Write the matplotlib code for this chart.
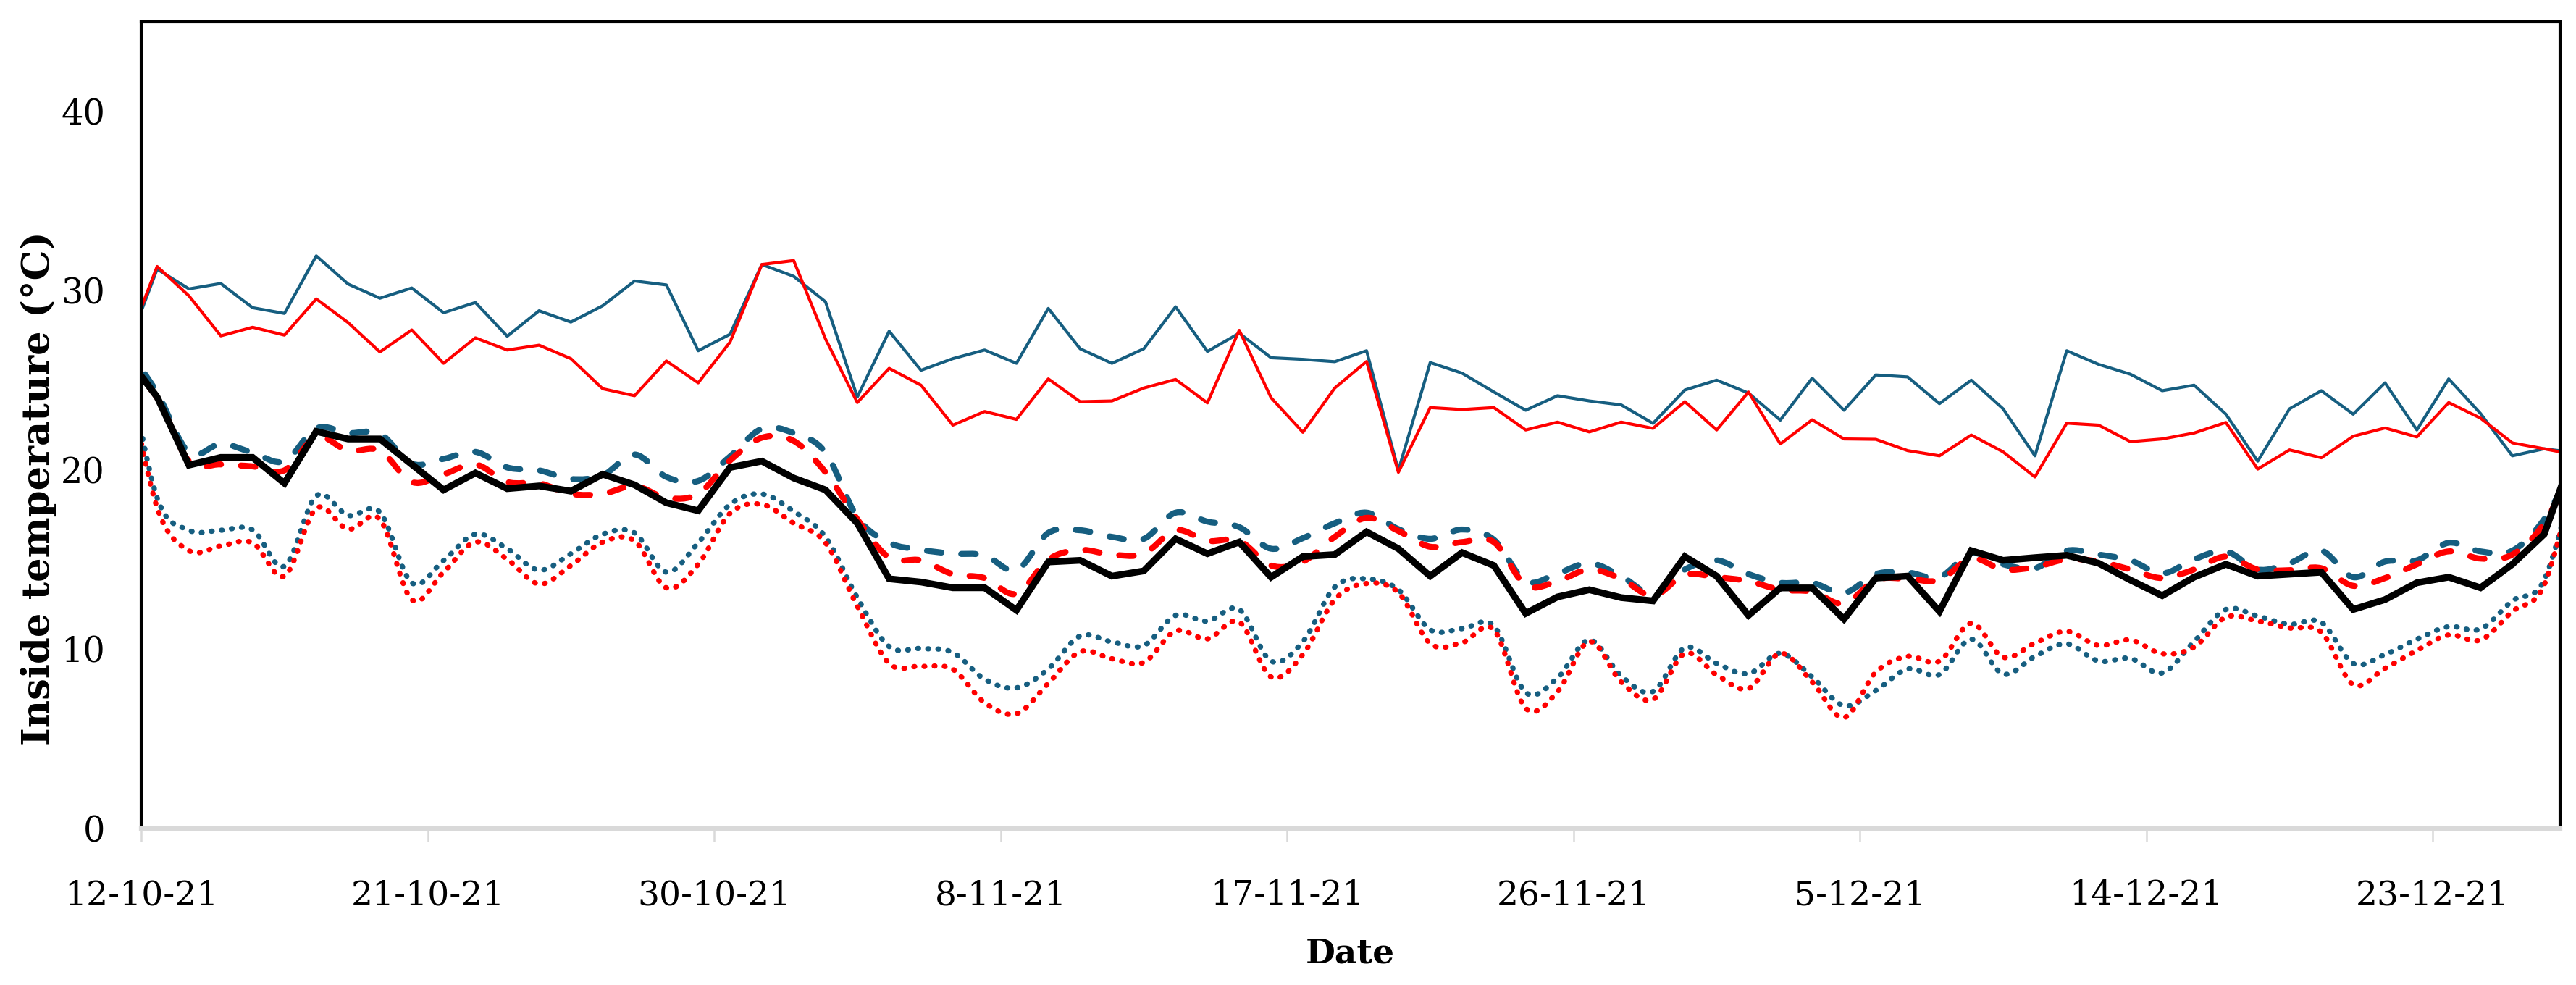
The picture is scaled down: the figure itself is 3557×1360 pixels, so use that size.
import numpy as np
import matplotlib
matplotlib.use("Agg")
import matplotlib.pyplot as plt
from matplotlib.path import Path
from matplotlib.patches import PathPatch

plt.rcParams['font.family'] = ['DejaVu Serif']

# daily values, plotted at mid-day; first and last points fall just outside the axis range
blue_solid = [26.5,
              31.2, 30.1, 30.4, 29.05, 28.73, 31.94, 30.37, 29.58, 30.15, 28.77,
              29.34, 27.46, 28.88, 28.25, 29.16, 30.54, 30.32, 26.65, 27.57, 31.46,
              30.8, 29.38, 24.07, 27.74, 25.56, 26.21, 26.69, 25.95, 29.01, 26.76,
              25.95, 26.76, 29.1, 26.61, 27.63, 26.26, 26.17, 26.04, 26.65, 19.98,
              25.99, 25.4, 24.35, 23.33, 24.14, 23.85, 23.63, 22.6, 24.46, 25.01,
              24.29, 22.78, 25.12, 23.33, 25.3, 25.19, 23.7, 25.01, 23.41, 20.79,
              26.65, 25.89, 25.34, 24.42, 24.73, 23.11, 20.49, 23.41, 24.42, 23.11,
              24.86, 22.23, 25.08, 23.15, 20.79, 21.18, 20.96]
red_solid = [26.75,
             31.35, 29.71, 27.48, 27.96, 27.52, 29.54, 28.22, 26.58, 27.81, 25.95,
             27.37, 26.69, 26.96, 26.21, 24.53, 24.14, 26.08, 24.86, 27.13, 31.46,
             31.68, 27.31, 23.76, 25.67, 24.73, 22.5, 23.26, 22.82, 25.08, 23.81,
             23.85, 24.57, 25.05, 23.74, 27.79, 24.03, 22.1, 24.57, 26.05, 19.87,
             23.48, 23.37, 23.48, 22.23, 22.67, 22.12, 22.67, 22.32, 23.81, 22.23,
             24.35, 21.45, 22.8, 21.73, 21.71, 21.08, 20.79, 21.95, 21.01, 19.61,
             22.61, 22.5, 21.58, 21.73, 22.06, 22.65, 20.05, 21.12, 20.68, 21.88,
             22.34, 21.84, 23.76, 22.89, 21.51, 21.18, 20.84]
black_solid = [26.4,
               24.07, 20.27, 20.7, 20.7, 19.26, 22.15, 21.73, 21.73, 20.31, 18.89,
               19.83, 18.96, 19.11, 18.82, 19.76, 19.17, 18.17, 17.73, 20.14, 20.49,
               19.55, 18.89, 17.03, 13.93, 13.75, 13.43, 13.43, 12.18, 14.87, 14.96,
               14.08, 14.37, 16.16, 15.33, 15.98, 14.02, 15.17, 15.28, 16.55, 15.61,
               14.08, 15.39, 14.67, 12.0, 12.92, 13.32, 12.88, 12.7, 15.17, 14.08,
               11.89, 13.42, 13.42, 11.68, 13.97, 14.08, 12.11, 15.5, 14.96, 15.11,
               15.24, 14.8, 13.86, 12.99, 14.02, 14.74, 14.08, 14.19, 14.3, 12.22,
               12.77, 13.71, 14.02, 13.43, 14.74, 16.42, 21.36]
blue_dashed = [26.9,
               24.3, 20.97, 21.45, 20.97, 20.49, 22.32, 22.06, 22.02, 20.35, 20.62,
               21.01, 20.14, 19.98, 19.5, 19.7, 20.86, 19.61, 19.39, 20.75, 22.3,
               22.06, 20.97, 17.36, 15.94, 15.55, 15.33, 15.24, 14.41, 16.49, 16.64,
               16.27, 16.16, 17.62, 17.12, 16.81, 15.61, 16.2, 17.03, 17.62, 16.7,
               16.16, 16.68, 16.11, 13.8, 14.23, 14.8, 14.08, 13.1, 14.45, 14.96,
               14.19, 13.71, 13.71, 13.14, 14.19, 14.28, 14.02, 15.35, 14.74, 14.52,
               15.5, 15.28, 14.96, 14.23, 15.02, 15.46, 14.45, 14.8, 15.5, 14.02,
               14.89, 14.96, 15.94, 15.46, 15.5, 17.25, 20.5]
red_dashed = [25.95,
              24.03, 20.49, 20.31, 20.2, 19.98, 21.84, 21.08, 21.08, 19.33, 19.76,
              20.31, 19.33, 19.26, 18.67, 18.67, 19.11, 18.45, 18.67, 20.53, 21.8,
              21.62, 19.87, 17.25, 15.11, 14.96, 14.19, 13.97, 13.1, 15.0, 15.54,
              15.28, 15.33, 16.64, 16.05, 16.05, 14.67, 14.89, 16.27, 17.33, 16.6,
              15.72, 15.98, 15.98, 13.58, 13.8, 14.45, 13.93, 12.99, 14.15, 14.02,
              13.8, 13.32, 13.21, 12.55, 13.86, 13.93, 13.86, 15.06, 14.45, 14.58,
              15.02, 14.89, 14.45, 13.97, 14.45, 15.17, 14.45, 14.41, 14.52, 13.54,
              13.97, 14.74, 15.46, 15.06, 15.28, 17.03, 20.5]
blue_dotted = [26.75,
               18.45, 16.64, 16.64, 16.66, 14.63, 18.56, 17.47, 17.64, 13.71, 14.95,
               16.42, 15.61, 14.41, 15.33, 16.42, 16.49, 14.3, 15.94, 18.08, 18.66,
               17.69, 16.27, 12.88, 10.15, 10.04, 9.82, 8.33, 7.85, 8.9, 10.74,
               10.41, 10.21, 11.89, 11.57, 12.22, 9.34, 10.43, 13.47, 13.93, 13.32,
               11.09, 11.15, 11.3, 7.59, 8.4, 10.52, 8.51, 7.65, 10.08, 9.21,
               8.64, 9.77, 8.46, 6.85, 7.7, 8.9, 8.59, 10.56, 8.62, 9.6,
               10.3, 9.34, 9.49, 8.68, 10.43, 12.22, 11.85, 11.39, 11.5, 9.21,
               9.71, 10.56, 11.26, 11.13, 12.7, 13.86, 20.0]
red_dotted = [25.9,
              17.9, 15.5, 15.76, 15.94, 14.08, 17.86, 16.7, 17.25, 12.77, 14.3,
              15.98, 15.02, 13.64, 14.67, 15.98, 16.05, 13.43, 14.74, 17.58, 18.08,
              17.03, 15.94, 12.4, 9.21, 9.05, 8.88, 7.02, 6.41, 8.1, 9.86,
              9.47, 9.27, 11.02, 10.58, 11.52, 8.46, 9.71, 12.77, 13.67, 13.16,
              10.32, 10.37, 11.09, 6.71, 7.63, 10.43, 8.18, 7.2, 9.77, 8.57,
              7.81, 9.77, 8.18, 6.19, 8.72, 9.6, 9.34, 11.45, 9.56, 10.34,
              11.0, 10.21, 10.52, 9.75, 10.12, 11.79, 11.57, 11.19, 10.95, 8.03,
              8.94, 9.93, 10.8, 10.52, 12.11, 13.58, 20.0]

tick_days = [0, 9, 18, 27, 36, 45, 54, 63, 72]
tick_labels = ["12-10-21", "21-10-21", "30-10-21", "8-11-21", "17-11-21",
               "26-11-21", "5-12-21", "14-12-21", "23-12-21"]

days = np.arange(len(blue_solid)) - 0.5

BLUE = '#165E80'
RED = '#FF0000'


def smooth_path(x, y):
    # Excel style smoothed line: cubic bezier through every point
    pts = np.column_stack([x, y])
    n = len(pts)
    verts = [pts[0]]
    codes = [Path.MOVETO]
    for i in range(n - 1):
        p0 = pts[i - 1] if i > 0 else pts[i]
        p1, p2 = pts[i], pts[i + 1]
        p3 = pts[i + 2] if i + 2 < n else pts[i + 1]
        verts += [p1 + (p2 - p0) / 6, p2 - (p3 - p1) / 6, p2]
        codes += [Path.CURVE4] * 3
    return Path(verts, codes)


def add_smooth(ax, y, color, lw, dashes):
    patch = PathPatch(smooth_path(days, np.asarray(y, float)), fill=False,
                      edgecolor=color, lw=lw, linestyle=(0, dashes),
                      capstyle='round', joinstyle='round', transform=ax.transData)
    ax.add_patch(patch)


fig = plt.figure(figsize=(3557 / 300, 1360 / 300), dpi=300)
ax = fig.add_axes([195 / 3557, 1 - 1144 / 1360, 3340 / 3557, 1114 / 1360])

ax.plot(days, blue_solid, color=BLUE, lw=1.0)
ax.plot(days, red_solid, color=RED, lw=1.0)
add_smooth(ax, blue_dashed, BLUE, 2.0, (2.4, 3.3))
add_smooth(ax, red_dashed, RED, 2.0, (2.4, 3.3))
add_smooth(ax, blue_dotted, BLUE, 1.75, (0.15, 1.77))
add_smooth(ax, red_dotted, RED, 1.75, (0.15, 1.77))
ax.plot(days, black_solid, color='black', lw=2.25, solid_joinstyle='miter')

ax.set_xlim(0, 76)
ax.set_ylim(0, 45)
ax.set_yticks([0, 10, 20, 30, 40])
ax.set_xticks(tick_days)
ax.set_xticklabels(tick_labels)

ax.tick_params(axis='y', length=0, pad=12, labelsize=11.5)
ax.tick_params(axis='x', length=4.3, width=0.6, color='#D9D9D9',
               direction='out', pad=12.5, labelsize=11.3)

for side in ['top', 'left', 'right']:
    ax.spines[side].set_linewidth(1.0)
    ax.spines[side].set_color('black')
ax.spines['bottom'].set_color('#D9D9D9')
ax.spines['bottom'].set_linewidth(1.5)

fig.text(54 / 3557, 0.504, 'Inside temperature (°C)', rotation=90,
         ha='center', va='center', fontsize=12.7, fontweight='bold')
fig.text(0.524, 0.032, 'Date', ha='center', va='center',
         fontsize=11.3, fontweight='bold')

fig.savefig('out.png', dpi=300)
